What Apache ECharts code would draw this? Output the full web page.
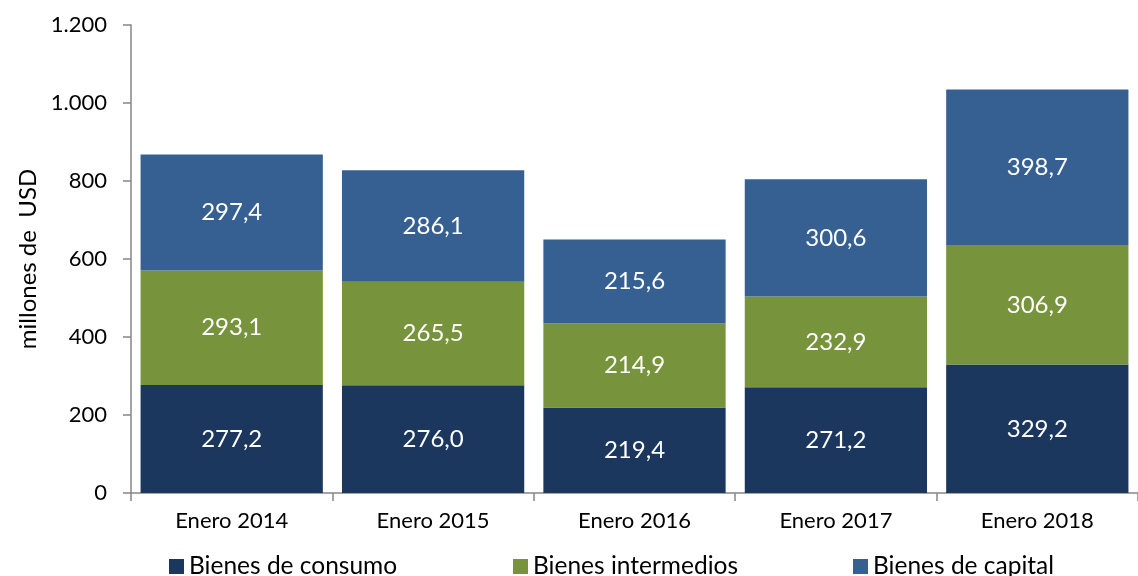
<!DOCTYPE html>
<html>
<head>
<meta charset="utf-8">
<script src="https://cdn.jsdelivr.net/npm/echarts@6/dist/echarts.min.js"></script>
<style>html,body{margin:0;padding:0;background:#fff}#c{width:1138px;height:576px}</style>
</head>
<body>
<div id="c"></div>
<script>
var categories = ['Enero 2014', 'Enero 2015', 'Enero 2016', 'Enero 2017', 'Enero 2018'];
var consumo = [277.2, 276.0, 219.4, 271.2, 329.2];
var intermedios = [293.1, 265.5, 214.9, 232.9, 306.9];
var capital = [297.4, 286.1, 215.6, 300.6, 398.7];
var seriesNames = ['Bienes de consumo', 'Bienes intermedios', 'Bienes de capital'];
var colors = ['#1b375e', '#77933c', '#376092'];

var FONT = 'Lato';
function fmtNum(v) { return v.toFixed(1).replace('.', ','); }
function fmtAxis(v) { return String(v).replace(/\B(?=(\d{3})+(?!\d))/g, '.'); }

var chart = echarts.init(document.getElementById('c'), null, { renderer: 'canvas' });
function mk(name, data, color) {
  return {
    name: name, type: 'bar', stack: 'total', data: data,
    barCategoryGap: '9.5%',
    itemStyle: { color: color },
    label: { show: true, position: 'inside', color: '#fff', fontFamily: FONT, fontSize: 24,
      formatter: function (p) { return fmtNum(p.value); } }
  };
}
var legendBase = { icon: 'rect', itemWidth: 15, itemHeight: 15, itemGap: 8, top: 549,
  textStyle: { fontFamily: FONT, fontSize: 24.5, color: '#000' } };
chart.setOption({
  animation: false,
  textStyle: { fontFamily: FONT },
  grid: { left: 131, top: 25, width: 1015, bottom: 83, containLabel: false },
  legend: [
    Object.assign({}, legendBase, { left: 164, data: [seriesNames[0]] }),
    Object.assign({}, legendBase, { left: 508, data: [seriesNames[1]] }),
    Object.assign({}, legendBase, { left: 848, data: [seriesNames[2]] })
  ],
  xAxis: {
    type: 'category', data: categories,
    axisLine: { lineStyle: { color: '#868686', width: 1.5 } },
    axisTick: { show: true, length: 8, lineStyle: { color: '#868686', width: 1.5 } },
    axisLabel: { color: '#000', fontFamily: FONT, fontSize: 22, margin: 17 }
  },
  yAxis: {
    type: 'value', min: 0, max: 1200, interval: 200,
    name: 'millones de  USD', nameLocation: 'middle', nameGap: 90, nameRotate: 90,
    nameTextStyle: { color: '#000', fontFamily: FONT, fontSize: 24 },
    splitLine: { show: false },
    axisLine: { show: true, lineStyle: { color: '#868686', width: 1.5 } },
    axisTick: { show: true, length: 8, lineStyle: { color: '#868686', width: 1.5 } },
    axisLabel: { color: '#000', fontFamily: FONT, fontSize: 22, margin: 24,
      formatter: function (v) { return fmtAxis(v); } }
  },
  series: [
    mk(seriesNames[0], consumo, colors[0]),
    mk(seriesNames[1], intermedios, colors[1]),
    mk(seriesNames[2], capital, colors[2])
  ]
});
</script>
</body>
</html>
